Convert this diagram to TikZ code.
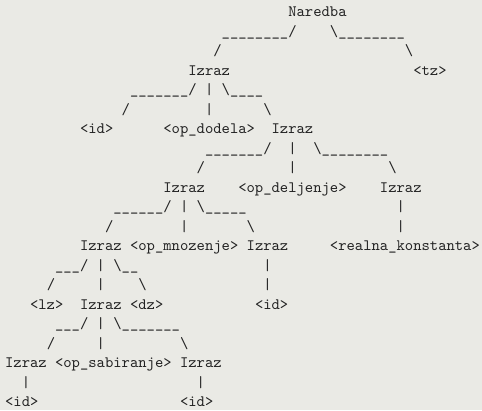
\documentclass[tikz,border=0pt]{standalone}
\definecolor{bgc}{RGB}{234,234,229}
\definecolor{txc}{RGB}{34,34,34}
\tikzset{tok/.style={anchor=base west, inner sep=0pt, outer sep=0pt, text=txc, font=\fontsize{10}{12}\selectfont\ttfamily}}
\newcommand\myBS{\textbackslash}
\newcommand\myUS{\_}
% #1 name, #2 column, #3 row, #4 text
\newcommand\atok[4]{\node[tok] (#1) at ({5.1+#2*8.33},{16.6+(#3-1)*19.5}) {#4};}
\begin{document}
\begin{tikzpicture}[x=0.6303pt, y=-0.6303pt]
\fill[bgc] (0,0) rectangle (482,410);
\useasboundingbox (0,0) rectangle (482,410);
% row 1
\atok{naredba}{34}{1}{Naredba}
% row 2
\atok{c2a}{26}{2}{\myUS\myUS\myUS\myUS\myUS\myUS\myUS\myUS/}
\atok{c2b}{39}{2}{\myBS\myUS\myUS\myUS\myUS\myUS\myUS\myUS\myUS}
% row 3
\atok{c3a}{25}{3}{/}
\atok{c3b}{48}{3}{\myBS}
% row 4
\atok{izA}{22}{4}{Izraz}
\atok{tz}{49}{4}{<tz>}
% row 5
\atok{c5a}{15}{5}{\myUS\myUS\myUS\myUS\myUS\myUS\myUS/}
\atok{c5b}{24}{5}{|}
\atok{c5c}{26}{5}{\myBS\myUS\myUS\myUS\myUS}
% row 6
\atok{c6a}{14}{6}{/}
\atok{c6b}{24}{6}{|}
\atok{c6c}{31}{6}{\myBS}
% row 7
\atok{idA}{9}{7}{<id>}
\atok{opdod}{19}{7}{<op\_dodela>}
\atok{izB}{32}{7}{Izraz}
% row 8
\atok{c8a}{24}{8}{\myUS\myUS\myUS\myUS\myUS\myUS\myUS/}
\atok{c8b}{34}{8}{|}
\atok{c8c}{37}{8}{\myBS\myUS\myUS\myUS\myUS\myUS\myUS\myUS\myUS}
% row 9
\atok{c9a}{23}{9}{/}
\atok{c9b}{34}{9}{|}
\atok{c9c}{46}{9}{\myBS}
% row 10
\atok{izC}{19}{10}{Izraz}
\atok{opdel}{28}{10}{<op\_deljenje>}
\atok{izD}{45}{10}{Izraz}
% row 11
\atok{c11a}{13}{11}{\myUS\myUS\myUS\myUS\myUS\myUS/}
\atok{c11b}{21}{11}{|}
\atok{c11c}{23}{11}{\myBS\myUS\myUS\myUS\myUS\myUS}
\atok{c11d}{47}{11}{|}
% row 12
\atok{c12a}{12}{12}{/}
\atok{c12b}{21}{12}{|}
\atok{c12c}{29}{12}{\myBS}
\atok{c12d}{47}{12}{|}
% row 13
\atok{izE}{9}{13}{Izraz}
\atok{opmn}{15}{13}{<op\_mnozenje>}
\atok{izF}{29}{13}{Izraz}
\atok{realna}{39}{13}{<realna\_konstanta>}
% row 14
\atok{c14a}{6}{14}{\myUS\myUS\myUS/}
\atok{c14b}{11}{14}{|}
\atok{c14c}{13}{14}{\myBS\myUS\myUS}
\atok{c14d}{31}{14}{|}
% row 15
\atok{c15a}{5}{15}{/}
\atok{c15b}{11}{15}{|}
\atok{c15c}{16}{15}{\myBS}
\atok{c15d}{31}{15}{|}
% row 16
\atok{lz}{3}{16}{<lz>}
\atok{izG}{9}{16}{Izraz}
\atok{dz}{15}{16}{<dz>}
\atok{idB}{30}{16}{<id>}
% row 17
\atok{c17a}{6}{17}{\myUS\myUS\myUS/}
\atok{c17b}{11}{17}{|}
\atok{c17c}{13}{17}{\myBS\myUS\myUS\myUS\myUS\myUS\myUS\myUS}
% row 18
\atok{c18a}{5}{18}{/}
\atok{c18b}{11}{18}{|}
\atok{c18c}{21}{18}{\myBS}
% row 19
\atok{izH}{0}{19}{Izraz}
\atok{opsab}{6}{19}{<op\_sabiranje>}
\atok{izI}{21}{19}{Izraz}
% row 20
\atok{c20a}{2}{20}{|}
\atok{c20b}{23}{20}{|}
% row 21
\atok{idC}{0}{21}{<id>}
\atok{idD}{21}{21}{<id>}
\end{tikzpicture}
\end{document}
